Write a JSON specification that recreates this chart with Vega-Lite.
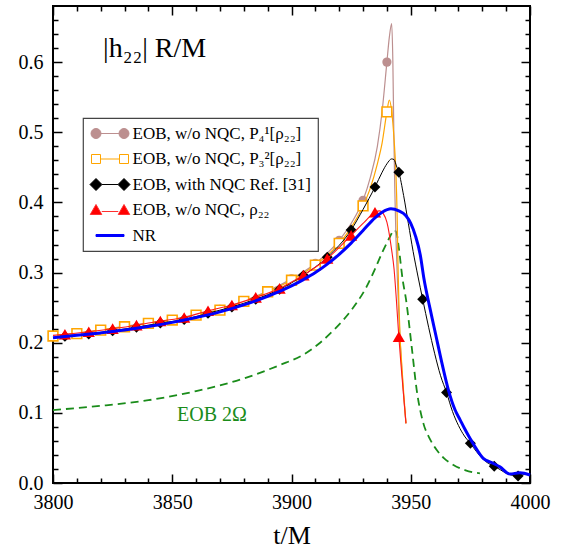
{
  "$schema": "https://vega.github.io/schema/vega-lite/v6.json",
  "width": 477,
  "height": 477,
  "autosize": {"type": "none"},
  "padding": {"left": 53, "top": 6, "right": 32, "bottom": 65},
  "background": "white",
  "config": {
    "view": {"stroke": "black", "strokeWidth": 2},
    "font": "Liberation Serif",
    "axis": {
      "domain": false,
      "grid": false,
      "tickColor": "black",
      "tickWidth": 1.5,
      "labelFont": "Liberation Serif",
      "labelFontSize": 20,
      "labelColor": "black",
      "titleFont": "Liberation Serif",
      "titleFontWeight": "normal",
      "titleColor": "black"
    },
    "legend": {"strokeWidth": 1.2}
  },
  "datasets": {
    "nr": [
      {"t": 3800, "h": 0.207}, {"t": 3810, "h": 0.2105}, {"t": 3820, "h": 0.214}, {"t": 3830, "h": 0.218},
      {"t": 3840, "h": 0.223}, {"t": 3850, "h": 0.229}, {"t": 3860, "h": 0.236}, {"t": 3870, "h": 0.244},
      {"t": 3880, "h": 0.254}, {"t": 3890, "h": 0.266}, {"t": 3900, "h": 0.281}, {"t": 3905, "h": 0.29},
      {"t": 3910, "h": 0.3}, {"t": 3915, "h": 0.312}, {"t": 3920, "h": 0.326}, {"t": 3925, "h": 0.342},
      {"t": 3930, "h": 0.36}, {"t": 3935, "h": 0.378}, {"t": 3938, "h": 0.386}, {"t": 3941.7, "h": 0.391},
      {"t": 3945, "h": 0.388}, {"t": 3948, "h": 0.381}, {"t": 3950, "h": 0.37}, {"t": 3952, "h": 0.352},
      {"t": 3954, "h": 0.325}, {"t": 3955.5, "h": 0.292}, {"t": 3958, "h": 0.25}, {"t": 3960.5, "h": 0.211},
      {"t": 3963, "h": 0.172}, {"t": 3965.8, "h": 0.1325}, {"t": 3968.6, "h": 0.104}, {"t": 3970.7, "h": 0.09},
      {"t": 3972.5, "h": 0.078}, {"t": 3974.1, "h": 0.068}, {"t": 3976.9, "h": 0.052}, {"t": 3980.4, "h": 0.035},
      {"t": 3983.9, "h": 0.029}, {"t": 3987.4, "h": 0.023}, {"t": 3991.6, "h": 0.0128}, {"t": 3995.8, "h": 0.0147},
      {"t": 4000, "h": 0.0114}
    ],
    "omega": [
      {"t": 3800, "h": 0.104}, {"t": 3820, "h": 0.11}, {"t": 3840, "h": 0.118}, {"t": 3860, "h": 0.131},
      {"t": 3880, "h": 0.149}, {"t": 3895, "h": 0.168}, {"t": 3905, "h": 0.183}, {"t": 3912, "h": 0.2},
      {"t": 3918, "h": 0.219}, {"t": 3925, "h": 0.246}, {"t": 3931.5, "h": 0.28}, {"t": 3935, "h": 0.305},
      {"t": 3938.5, "h": 0.332}, {"t": 3941.3, "h": 0.351}, {"t": 3943, "h": 0.3606}, {"t": 3944, "h": 0.357},
      {"t": 3945, "h": 0.335}, {"t": 3946.6, "h": 0.29}, {"t": 3948, "h": 0.262}, {"t": 3950.4, "h": 0.194},
      {"t": 3952.5, "h": 0.1325}, {"t": 3955.3, "h": 0.085}, {"t": 3958, "h": 0.063}, {"t": 3960.9, "h": 0.047},
      {"t": 3964, "h": 0.035}, {"t": 3967.9, "h": 0.0257}, {"t": 3973, "h": 0.018}, {"t": 3979, "h": 0.0138}
    ],
    "p41": [
      {"t": 3800, "h": 0.21}, {"t": 3810, "h": 0.2135}, {"t": 3820, "h": 0.2185}, {"t": 3830, "h": 0.2233},
      {"t": 3840, "h": 0.2282}, {"t": 3850, "h": 0.233}, {"t": 3860, "h": 0.2402}, {"t": 3870, "h": 0.2475},
      {"t": 3880, "h": 0.2595}, {"t": 3890, "h": 0.2735}, {"t": 3900, "h": 0.291}, {"t": 3910, "h": 0.313},
      {"t": 3920, "h": 0.346}, {"t": 3925, "h": 0.37}, {"t": 3930, "h": 0.403}, {"t": 3933, "h": 0.435},
      {"t": 3936, "h": 0.48}, {"t": 3938, "h": 0.53}, {"t": 3940, "h": 0.6}, {"t": 3941, "h": 0.635},
      {"t": 3942, "h": 0.655}, {"t": 3942.5, "h": 0.6}, {"t": 3942.9, "h": 0.5}, {"t": 3943.3, "h": 0.42},
      {"t": 3943.8, "h": 0.35}, {"t": 3944.4, "h": 0.29}, {"t": 3945, "h": 0.24}, {"t": 3945.6, "h": 0.2},
      {"t": 3946.3, "h": 0.16}, {"t": 3947, "h": 0.125}, {"t": 3948, "h": 0.085}
    ],
    "p32": [
      {"t": 3800, "h": 0.2095}, {"t": 3810, "h": 0.213}, {"t": 3820, "h": 0.218}, {"t": 3830, "h": 0.2228},
      {"t": 3840, "h": 0.2276}, {"t": 3850, "h": 0.2323}, {"t": 3860, "h": 0.2394}, {"t": 3870, "h": 0.2465},
      {"t": 3880, "h": 0.259}, {"t": 3890, "h": 0.2726}, {"t": 3900, "h": 0.289}, {"t": 3910, "h": 0.3107},
      {"t": 3920, "h": 0.3416}, {"t": 3925, "h": 0.364}, {"t": 3930, "h": 0.395}, {"t": 3933, "h": 0.42},
      {"t": 3936, "h": 0.455}, {"t": 3938, "h": 0.485}, {"t": 3940, "h": 0.529}, {"t": 3941, "h": 0.546},
      {"t": 3942, "h": 0.53}, {"t": 3943, "h": 0.49}, {"t": 3943.8, "h": 0.44}, {"t": 3944.3, "h": 0.38},
      {"t": 3944.6, "h": 0.32}, {"t": 3945, "h": 0.26}, {"t": 3945.5, "h": 0.21}, {"t": 3946.2, "h": 0.17},
      {"t": 3947, "h": 0.13}, {"t": 3948, "h": 0.085}
    ],
    "nqc": [
      {"t": 3800, "h": 0.207}, {"t": 3805, "h": 0.209}, {"t": 3815, "h": 0.2125}, {"t": 3825, "h": 0.217},
      {"t": 3835, "h": 0.222}, {"t": 3845, "h": 0.228}, {"t": 3855, "h": 0.233}, {"t": 3865, "h": 0.242},
      {"t": 3875, "h": 0.251}, {"t": 3885, "h": 0.262}, {"t": 3895, "h": 0.276}, {"t": 3905, "h": 0.296},
      {"t": 3915, "h": 0.322}, {"t": 3925, "h": 0.3606}, {"t": 3930, "h": 0.39}, {"t": 3935, "h": 0.4218},
      {"t": 3938, "h": 0.443}, {"t": 3940, "h": 0.455}, {"t": 3942, "h": 0.462}, {"t": 3943, "h": 0.461},
      {"t": 3944, "h": 0.452}, {"t": 3945, "h": 0.443}, {"t": 3947, "h": 0.41}, {"t": 3949, "h": 0.37},
      {"t": 3951, "h": 0.33}, {"t": 3953, "h": 0.295}, {"t": 3955, "h": 0.262}, {"t": 3957.5, "h": 0.222},
      {"t": 3960, "h": 0.185}, {"t": 3962.5, "h": 0.153}, {"t": 3965, "h": 0.129}, {"t": 3967.5, "h": 0.102},
      {"t": 3970, "h": 0.082}, {"t": 3972.5, "h": 0.067}, {"t": 3975, "h": 0.0565}, {"t": 3977.5, "h": 0.045},
      {"t": 3980, "h": 0.035}, {"t": 3982.5, "h": 0.028}, {"t": 3985, "h": 0.024}, {"t": 3987.5, "h": 0.019},
      {"t": 3990, "h": 0.014}, {"t": 3992.5, "h": 0.011}, {"t": 3995, "h": 0.01}, {"t": 3997.5, "h": 0.012},
      {"t": 4000, "h": 0.012}
    ],
    "rho": [
      {"t": 3800, "h": 0.2105}, {"t": 3805, "h": 0.212}, {"t": 3815, "h": 0.2157}, {"t": 3825, "h": 0.22},
      {"t": 3835, "h": 0.225}, {"t": 3845, "h": 0.231}, {"t": 3855, "h": 0.236}, {"t": 3865, "h": 0.2456},
      {"t": 3875, "h": 0.2537}, {"t": 3885, "h": 0.2646}, {"t": 3895, "h": 0.2774}, {"t": 3905, "h": 0.2964},
      {"t": 3915, "h": 0.32}, {"t": 3925, "h": 0.353}, {"t": 3930, "h": 0.37}, {"t": 3935, "h": 0.386},
      {"t": 3937, "h": 0.388}, {"t": 3938.5, "h": 0.384}, {"t": 3940, "h": 0.372}, {"t": 3942, "h": 0.332},
      {"t": 3943, "h": 0.305}, {"t": 3944, "h": 0.26}, {"t": 3945, "h": 0.2085}, {"t": 3946, "h": 0.165},
      {"t": 3947, "h": 0.125}, {"t": 3948, "h": 0.085}
    ],
    "p41Pts": [
      {"t": 3800, "h": 0.21}, {"t": 3810, "h": 0.2135}, {"t": 3820, "h": 0.2185}, {"t": 3830, "h": 0.2233},
      {"t": 3840, "h": 0.2282}, {"t": 3850, "h": 0.233}, {"t": 3860, "h": 0.2402}, {"t": 3870, "h": 0.2475},
      {"t": 3880, "h": 0.2595}, {"t": 3890, "h": 0.2735}, {"t": 3900, "h": 0.291}, {"t": 3910, "h": 0.313},
      {"t": 3920, "h": 0.346}, {"t": 3930, "h": 0.403}, {"t": 3940, "h": 0.6}
    ],
    "p32Pts": [
      {"t": 3800, "h": 0.2095}, {"t": 3810, "h": 0.213}, {"t": 3820, "h": 0.218}, {"t": 3830, "h": 0.2228},
      {"t": 3840, "h": 0.2276}, {"t": 3850, "h": 0.2323}, {"t": 3860, "h": 0.2394}, {"t": 3870, "h": 0.2465},
      {"t": 3880, "h": 0.259}, {"t": 3890, "h": 0.2726}, {"t": 3900, "h": 0.289}, {"t": 3910, "h": 0.3107},
      {"t": 3920, "h": 0.3416}, {"t": 3930, "h": 0.395}, {"t": 3940, "h": 0.529}
    ],
    "nqcPts": [
      {"t": 3805, "h": 0.209}, {"t": 3815, "h": 0.2125}, {"t": 3825, "h": 0.217}, {"t": 3835, "h": 0.222},
      {"t": 3845, "h": 0.228}, {"t": 3855, "h": 0.233}, {"t": 3865, "h": 0.242}, {"t": 3875, "h": 0.251},
      {"t": 3885, "h": 0.262}, {"t": 3895, "h": 0.276}, {"t": 3905, "h": 0.296}, {"t": 3915, "h": 0.322},
      {"t": 3925, "h": 0.3606}, {"t": 3935, "h": 0.4218}, {"t": 3945, "h": 0.443}, {"t": 3955, "h": 0.262},
      {"t": 3965, "h": 0.129}, {"t": 3975, "h": 0.0565}, {"t": 3985, "h": 0.024}, {"t": 3995, "h": 0.01}
    ],
    "rhoPts": [
      {"t": 3805, "h": 0.212}, {"t": 3815, "h": 0.2157}, {"t": 3825, "h": 0.22}, {"t": 3835, "h": 0.225},
      {"t": 3845, "h": 0.231}, {"t": 3855, "h": 0.236}, {"t": 3865, "h": 0.2456}, {"t": 3875, "h": 0.2537},
      {"t": 3885, "h": 0.2646}, {"t": 3895, "h": 0.2774}, {"t": 3905, "h": 0.2964}, {"t": 3915, "h": 0.32},
      {"t": 3925, "h": 0.353}, {"t": 3935, "h": 0.386}, {"t": 3945, "h": 0.2085}
    ],
    "series": [
      {"series": "EOB, w/o NQC, P₄¹[ρ₂₂]"},
      {"series": "EOB, w/o NQC, P₃²[ρ₂₂]"},
      {"series": "EOB, with NQC Ref. [31]"},
      {"series": "EOB, w/o NQC, ρ₂₂"},
      {"series": "NR"}
    ]
  },
  "layer": [
    {
      "data": {"name": "omega"},
      "mark": {"type": "line", "color": "#1a8c1a", "strokeWidth": 1.8, "strokeDash": [8, 5], "interpolate": "monotone"},
      "encoding": {
        "x": {"field": "t", "type": "quantitative", "scale": {"domain": [3800, 4000], "nice": false, "zero": false},
          "axis": {"orient": "bottom", "values": [3800, 3850, 3900, 3950, 4000], "format": "d", "tickSize": -9, "labelPadding": 18, "labelFlush": false,
            "labelFont": "Liberation Serif", "labelFontSize": 20, "labelColor": "black",
            "title": "t/M", "titleFont": "Liberation Serif", "titleFontSize": 26, "titleBaseline": "alphabetic", "titleY": 60}},
        "y": {"field": "h", "type": "quantitative", "scale": {"domain": [0, 0.68], "nice": false, "zero": false},
          "axis": {"orient": "left", "values": [0, 0.1, 0.2, 0.3, 0.4, 0.5, 0.6], "format": ".1f", "tickSize": -9, "labelPadding": 19,
            "labelFont": "Liberation Serif", "labelFontSize": 20, "labelColor": "black", "title": null}}
      }
    },
    {
      "data": {"name": "p41"},
      "mark": {"type": "line", "color": "#bc8f8f", "strokeWidth": 1.2, "interpolate": "monotone"},
      "encoding": {
        "x": {"field": "t", "type": "quantitative",
          "axis": {"orient": "bottom", "values": [3810, 3820, 3830, 3840, 3860, 3870, 3880, 3890, 3910, 3920, 3930, 3940, 3960, 3970, 3980, 3990], "tickSize": -5, "labels": false, "title": null}},
        "y": {"field": "h", "type": "quantitative",
          "axis": {"orient": "left", "values": [0.02, 0.04, 0.06, 0.08, 0.12, 0.14, 0.16, 0.18, 0.22, 0.24, 0.26, 0.28, 0.32, 0.34, 0.36, 0.38, 0.42, 0.44, 0.46, 0.48, 0.52, 0.54, 0.56, 0.58, 0.62, 0.64, 0.66], "tickSize": -5, "labels": false, "title": null}}
      }
    },
    {
      "data": {"name": "p41Pts"},
      "mark": {"type": "point", "shape": "circle", "filled": true, "size": 85, "fill": "#bc8f8f", "opacity": 1},
      "encoding": {
        "x": {"field": "t", "type": "quantitative", "axis": null},
        "y": {"field": "h", "type": "quantitative", "axis": null}
      }
    },
    {
      "data": {"name": "p32"},
      "mark": {"type": "line", "color": "#ffa500", "strokeWidth": 1.2, "interpolate": "monotone"},
      "encoding": {
        "x": {"field": "t", "type": "quantitative",
          "axis": {"orient": "top", "values": [3800, 3850, 3900, 3950, 4000], "tickSize": -9, "labels": false, "title": null}},
        "y": {"field": "h", "type": "quantitative",
          "axis": {"orient": "right", "values": [0, 0.1, 0.2, 0.3, 0.4, 0.5, 0.6], "tickSize": -9, "labels": false, "title": null}}
      }
    },
    {
      "data": {"name": "p32Pts"},
      "mark": {"type": "point", "shape": "square", "filled": false, "size": 95, "fill": "white", "fillOpacity": 1, "stroke": "#ffa500", "strokeWidth": 1.6, "opacity": 1},
      "encoding": {
        "x": {"field": "t", "type": "quantitative", "axis": null},
        "y": {"field": "h", "type": "quantitative", "axis": null}
      }
    },
    {
      "data": {"name": "nqc"},
      "mark": {"type": "line", "color": "black", "strokeWidth": 1, "interpolate": "monotone"},
      "encoding": {
        "x": {"field": "t", "type": "quantitative",
          "axis": {"orient": "top", "values": [3810, 3820, 3830, 3840, 3860, 3870, 3880, 3890, 3910, 3920, 3930, 3940, 3960, 3970, 3980, 3990], "tickSize": -5, "labels": false, "title": null}},
        "y": {"field": "h", "type": "quantitative",
          "axis": {"orient": "right", "values": [0.02, 0.04, 0.06, 0.08, 0.12, 0.14, 0.16, 0.18, 0.22, 0.24, 0.26, 0.28, 0.32, 0.34, 0.36, 0.38, 0.42, 0.44, 0.46, 0.48, 0.52, 0.54, 0.56, 0.58, 0.62, 0.64, 0.66], "tickSize": -5, "labels": false, "title": null}}
      }
    },
    {
      "data": {"name": "nqcPts"},
      "mark": {"type": "point", "shape": "diamond", "filled": true, "size": 120, "fill": "black", "opacity": 1},
      "encoding": {
        "x": {"field": "t", "type": "quantitative", "axis": null},
        "y": {"field": "h", "type": "quantitative", "axis": null}
      }
    },
    {
      "data": {"name": "rho"},
      "mark": {"type": "line", "color": "#ff1a1a", "strokeWidth": 1.1, "interpolate": "monotone"},
      "encoding": {
        "x": {"field": "t", "type": "quantitative", "axis": null},
        "y": {"field": "h", "type": "quantitative", "axis": null}
      }
    },
    {
      "data": {"name": "rhoPts"},
      "mark": {"type": "point", "shape": "triangle-up", "filled": true, "size": 150, "fill": "#ff0000", "opacity": 1},
      "encoding": {
        "x": {"field": "t", "type": "quantitative", "axis": null},
        "y": {"field": "h", "type": "quantitative", "axis": null}
      }
    },
    {
      "data": {"name": "nr"},
      "mark": {"type": "line", "color": "#0000ff", "strokeWidth": 3, "interpolate": "monotone"},
      "encoding": {
        "x": {"field": "t", "type": "quantitative", "axis": null},
        "y": {"field": "h", "type": "quantitative", "axis": null}
      }
    },
    {
      "data": {"values": [{}]},
      "mark": {"type": "text", "align": "left", "baseline": "alphabetic", "font": "Liberation Serif", "fontSize": 28, "color": "black"},
      "encoding": {
        "x": {"datum": 3821, "type": "quantitative", "axis": null},
        "y": {"datum": 0.607, "type": "quantitative", "axis": null},
        "text": {"value": "|h₂₂| R/M"}
      }
    },
    {
      "data": {"values": [{}]},
      "mark": {"type": "text", "align": "left", "baseline": "alphabetic", "font": "Liberation Serif", "fontSize": 20, "color": "#1a8c1a"},
      "encoding": {
        "x": {"datum": 3852, "type": "quantitative", "axis": null},
        "y": {"datum": 0.088, "type": "quantitative", "axis": null},
        "text": {"value": "EOB 2Ω"}
      }
    },
    {
      "data": {"name": "series"},
      "mark": {"type": "point", "filled": true, "opacity": 0},
      "encoding": {
        "shape": {"field": "series", "type": "nominal",
          "scale": {"domain": ["EOB, w/o NQC, P₄¹[ρ₂₂]", "EOB, w/o NQC, P₃²[ρ₂₂]", "EOB, with NQC Ref. [31]", "EOB, w/o NQC, ρ₂₂", "NR"],
            "range": [
              "M-3.8,0A1,1,0,1,1,-1.8,0A1,1,0,1,1,-3.8,0Z M1.8,0A1,1,0,1,1,3.8,0A1,1,0,1,1,1.8,0Z M-1.8,0L1.8,0",
              "M-3.7,-0.9H-1.9V0.9H-3.7Z M1.9,-0.9H3.7V0.9H1.9Z M-1.9,0H1.9",
              "M-4,0L-2.8,-1.2L-1.6,0L-2.8,1.2Z M1.6,0L2.8,-1.2L4,0L2.8,1.2Z M-1.6,0H1.6",
              "M-2.8,-1.1L-1.65,0.9L-3.95,0.9Z M2.8,-1.1L3.95,0.9L1.65,0.9Z M-1.65,0.3H1.65",
              "M-2.8,-0.2H2.8V0.2H-2.8Z"
            ]},
          "legend": {"orient": "none", "legendX": 30, "legendY": 112, "title": null, "padding": 7, "symbolSize": 100, "symbolStrokeWidth": 1,
            "symbolFillColor": "white",
            "symbolOffset": 11.5, "labelOffset": 14, "rowPadding": 7.5, "labelFont": "Liberation Serif", "labelFontSize": 17, "labelColor": "black",
            "labelLimit": 400, "strokeColor": "#444444", "fillColor": "white",
            "encode": {"symbols": {"update": {
              "fill": {"scale": "fill", "field": "value"},
              "stroke": {"scale": "stroke", "field": "value"},
              "opacity": {"value": 1},
              "fillOpacity": {"value": 1},
              "strokeOpacity": {"value": 1},
              "strokeWidth": {"value": 1}
            }}}}},
        "fill": {"field": "series", "type": "nominal",
          "scale": {"domain": ["EOB, w/o NQC, P₄¹[ρ₂₂]", "EOB, w/o NQC, P₃²[ρ₂₂]", "EOB, with NQC Ref. [31]", "EOB, w/o NQC, ρ₂₂", "NR"],
            "range": ["#bc8f8f", "white", "black", "#ff0000", "#0000ff"]},
          "legend": null},
        "stroke": {"field": "series", "type": "nominal",
          "scale": {"domain": ["EOB, w/o NQC, P₄¹[ρ₂₂]", "EOB, w/o NQC, P₃²[ρ₂₂]", "EOB, with NQC Ref. [31]", "EOB, w/o NQC, ρ₂₂", "NR"],
            "range": ["#bc8f8f", "#ffa500", "black", "#ff3030", "#0000ff"]},
          "legend": null}
      }
    }
  ],
  "resolve": {"axis": {"x": "independent", "y": "independent"}}
}
